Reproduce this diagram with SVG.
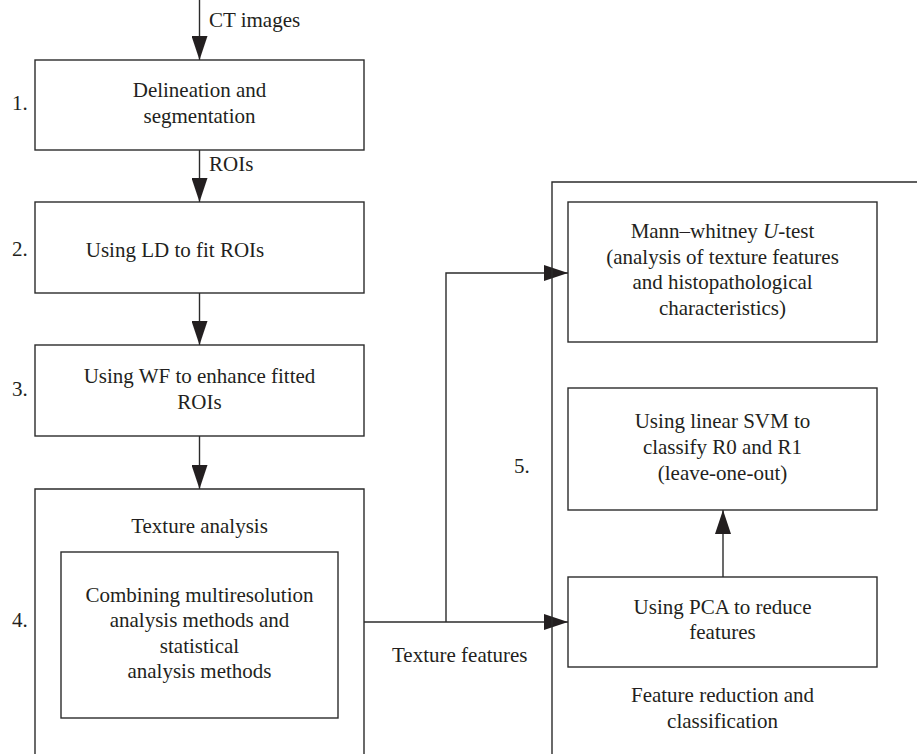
<svg xmlns="http://www.w3.org/2000/svg" width="917" height="754" viewBox="0 0 917 754">
<defs>
<style>
.box{fill:none;stroke:#2b2b2b;stroke-width:1.4}
.ln{fill:none;stroke:#2b2b2b;stroke-width:1.4}
text{font-family:"Liberation Serif","Times New Roman",serif;font-size:21px;fill:#231f20}
.c{text-anchor:middle}
</style>
<marker id="ah" viewBox="0 0 24 16" refX="24" refY="8" markerWidth="24" markerHeight="16" markerUnits="userSpaceOnUse" orient="auto">
<path d="M0,0 L24,8 L0,16 Z" fill="#231f20"/>
</marker>
</defs>
<rect width="917" height="754" fill="#fff"/>

<g id="connectors">
<line class="ln" x1="199.5" y1="0" x2="199.5" y2="60" marker-end="url(#ah)"/>
<text x="209" y="27">CT images</text>
<line class="ln" x1="199.5" y1="150" x2="199.5" y2="202" marker-end="url(#ah)"/>
<text x="209" y="171">ROIs</text>
<line class="ln" x1="199.5" y1="293" x2="199.5" y2="345" marker-end="url(#ah)"/>
<line class="ln" x1="199.5" y1="436" x2="199.5" y2="489" marker-end="url(#ah)"/>
<line class="ln" x1="364" y1="622" x2="568" y2="622" marker-end="url(#ah)"/>
<polyline class="ln" points="446,622 446,273 568,273" marker-end="url(#ah)"/>
<text x="392" y="662">Texture features</text>
<line class="ln" x1="723" y1="577" x2="723" y2="510" marker-end="url(#ah)"/>
</g>

<g id="step1">
<rect class="box" x="35" y="60" width="329" height="90"/>
<text x="12" y="110">1.</text>
<text class="c" x="199.5" y="97">Delineation and</text>
<text class="c" x="199.5" y="123">segmentation</text>
</g>

<g id="step2">
<rect class="box" x="35" y="202" width="329" height="91"/>
<text x="12" y="256">2.</text>
<text class="c" x="175" y="257">Using LD to fit ROIs</text>
</g>

<g id="step3">
<rect class="box" x="35" y="345" width="329" height="91"/>
<text x="12" y="396">3.</text>
<text class="c" x="199.5" y="383">Using WF to enhance fitted</text>
<text class="c" x="199.5" y="409">ROIs</text>
</g>

<g id="step4">
<polyline class="box" points="35,760 35,489 364,489 364,760"/>
<text x="12" y="627">4.</text>
<text class="c" x="199.5" y="533">Texture analysis</text>
<g id="combining">
<rect class="box" x="61" y="552" width="277" height="166"/>
<text class="c" x="199.5" y="602">Combining multiresolution</text>
<text class="c" x="199.5" y="627">analysis methods and</text>
<text class="c" x="199.5" y="653">statistical</text>
<text class="c" x="199.5" y="678">analysis methods</text>
</g>
</g>

<g id="step5">
<polyline class="box" points="552,760 552,182 920,182"/>
<text x="514" y="473">5.</text>
<text class="c" x="722.5" y="702">Feature reduction and</text>
<text class="c" x="722.5" y="728">classification</text>
</g>

<g id="mannwhitney">
<rect class="box" x="568" y="202" width="309" height="140"/>
<text class="c" x="722.5" y="238">Mann–whitney <tspan font-style="italic">U</tspan>-test</text>
<text class="c" x="722.5" y="264">(analysis of texture features</text>
<text class="c" x="722.5" y="289">and histopathological</text>
<text class="c" x="722.5" y="315">characteristics)</text>
</g>

<g id="svm">
<rect class="box" x="568" y="388" width="309" height="122"/>
<text class="c" x="722.5" y="428">Using linear SVM to</text>
<text class="c" x="722.5" y="454">classify R0 and R1</text>
<text class="c" x="722.5" y="480">(leave-one-out)</text>
</g>

<g id="pca">
<rect class="box" x="568" y="577" width="309" height="90"/>
<text class="c" x="722.5" y="614">Using PCA to reduce</text>
<text class="c" x="722.5" y="639">features</text>
</g>
</svg>
